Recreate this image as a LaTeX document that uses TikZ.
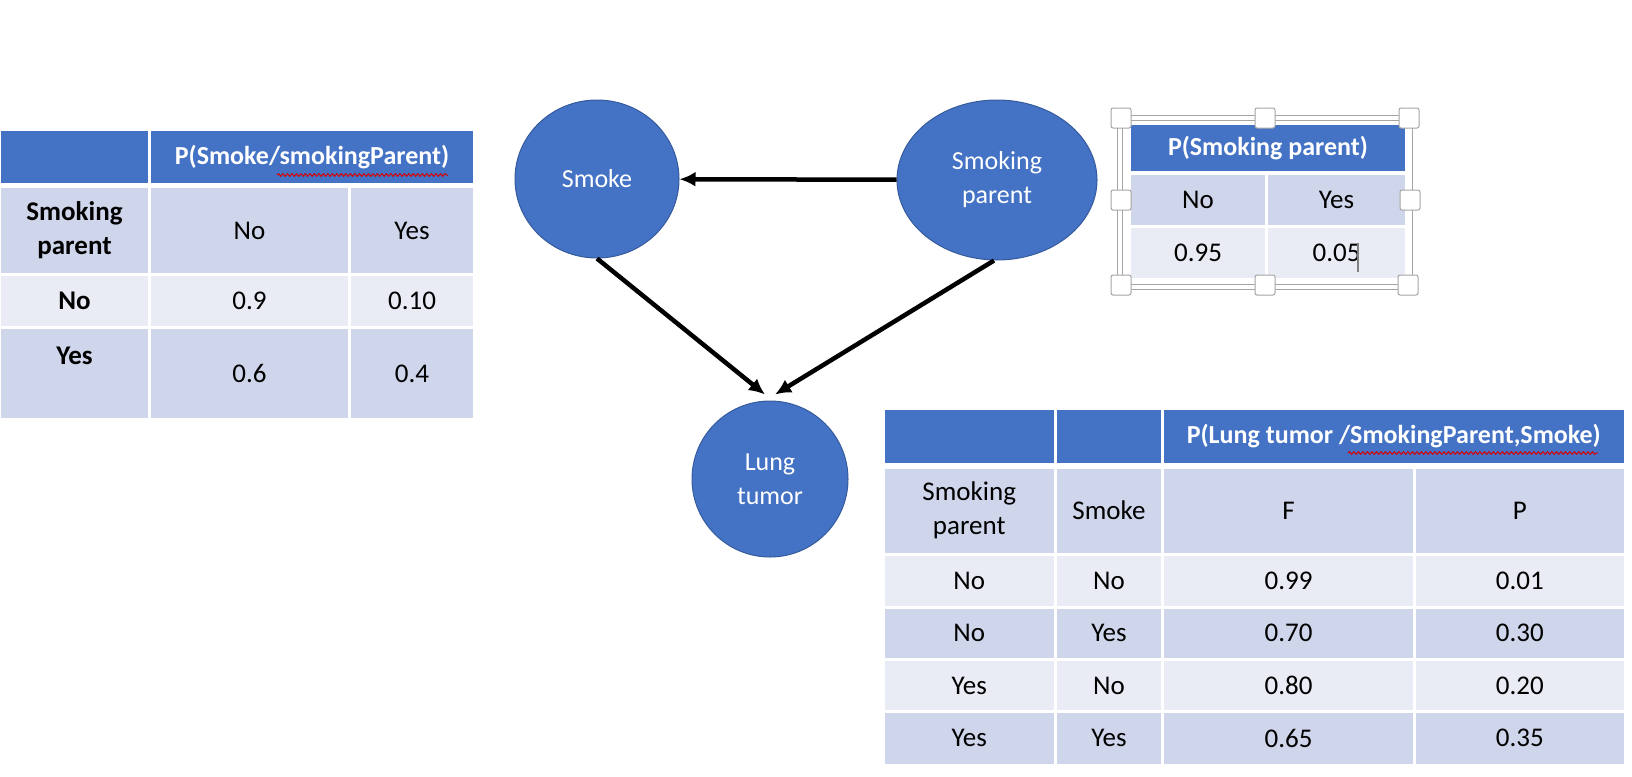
\documentclass[tikz,border=0pt]{standalone}
\usepackage{fontspec}
\setmainfont{Carlito}
\usetikzlibrary{arrows.meta,positioning,shapes.geometric,decorations.pathmorphing}
\definecolor{offblue}{RGB}{68,114,196}
\definecolor{rowdark}{RGB}{207,213,234}
\definecolor{rowlight}{RGB}{233,235,245}
\definecolor{handlegray}{RGB}{165,165,165}

\begin{document}
\begin{tikzpicture}[
    x=1pt,y=-1pt,
    hdr/.style={rectangle,draw=white,line width=3pt,fill=offblue,anchor=north west,
      inner sep=0pt,text=white,font=\fontsize{26}{31}\selectfont\bfseries},
    dark/.style={rectangle,draw=white,line width=3pt,fill=rowdark,anchor=north west,
      inner sep=0pt,align=center,font=\fontsize{27}{34}\selectfont},
    light/.style={dark,fill=rowlight},
    var/.style={ellipse,fill=offblue,draw=offblue!80!black,line width=1pt,text=white,
      align=center,inner sep=0pt,font=\fontsize{26}{34}\selectfont},
    arrow/.style={-{Latex[length=16pt,width=15pt]},line width=4.5pt},
    spell/.style={draw=red!85!black,line width=1pt,decorate,
      decoration={snake,amplitude=1.3pt,segment length=4.5pt}},
    selframe/.style={draw=handlegray,double=white,double distance=4pt,line width=0.8pt},
    handle/.style={rectangle,rounded corners=2pt,draw=handlegray,fill=white,line width=1pt,
      minimum size=20pt,inner sep=0pt}
  ]
    \useasboundingbox (0,0) rectangle (1632,776);

    % network
    \node[var,minimum width=164pt,minimum height=158pt] (smoke) at (597,179) {Smoke};
    \node[var,minimum width=200pt,minimum height=160pt] (parent) at (997,180) {Smoking\\parent};
    \node[var,minimum width=156pt,minimum height=156pt] (tumor) at (770,479) {Lung\\tumor};

    \draw[arrow] (parent) -- (smoke);
    \draw[arrow] (smoke.south) -- ([xshift=-5pt,yshift=6pt]tumor.north);
    \draw[arrow] ([xshift=-3pt]parent.south) -- ([xshift=5pt,yshift=6pt]tumor.north);

    % P(Smoke/smokingParent)
    \node[hdr,minimum width=150pt,minimum height=55pt] (sh1) at (-2,128) {};
    \node[hdr,minimum width=325pt,minimum height=55pt] (sh2) at (148,128) {P(Smoke/smokingParent)};
    \node[dark,font=\fontsize{27}{34}\selectfont\bfseries,minimum width=150pt,minimum height=88pt] (s1a) at (-2,185) {Smoking\\parent};
    \node[dark,minimum width=200pt,minimum height=88pt] (s1b) at (148,185) {No};
    \node[dark,minimum width=125pt,minimum height=88pt] (s1c) at (348,185) {Yes};
    \node[light,font=\fontsize{27}{34}\selectfont\bfseries,minimum width=150pt,minimum height=53pt] (s2a) at (-2,273) {No};
    \node[light,minimum width=200pt,minimum height=53pt] (s2b) at (148,273) {0.9};
    \node[light,minimum width=125pt,minimum height=53pt] (s2c) at (348,273) {0.10};
    \node[dark,font=\fontsize{27}{34}\selectfont\bfseries,text depth=36pt,minimum width=150pt,minimum height=92pt] (s3a) at (-2,326) {Yes};
    \node[dark,minimum width=200pt,minimum height=92pt] (s3b) at (148,326) {0.6};
    \node[dark,minimum width=125pt,minimum height=92pt] (s3c) at (348,326) {0.4};
    \draw[spell] (277,175) -- (448,175);

    % P(Smoking parent), selected
    \draw[selframe] (1120,118) rectangle (1410,287);
    \node[hdr,minimum width=277pt,minimum height=49pt] (ph) at (1128,122) {P(Smoking parent)};
    \node[dark,minimum width=137pt,minimum height=53pt] (p1a) at (1128,172) {No};
    \node[dark,minimum width=140pt,minimum height=53pt] (p1b) at (1265,172) {Yes};
    \node[light,minimum width=137pt,minimum height=53pt] (p2a) at (1128,225) {0.95};
    \node[light,minimum width=140pt,minimum height=53pt] (p2b) at (1265,225) {0.05};
    \draw[gray,line width=2pt] (1358,243) -- (1358,272);
    \node[handle] (hnw) at (1121,118) {};
    \node[handle] (hn) at (1265,118) {};
    \node[handle] (hne) at (1409,118) {};
    \node[handle] (hw) at (1121,200) {};
    \node[handle] (he) at (1410,200) {};
    \node[handle] (hsw) at (1121,285) {};
    \node[handle] (hs) at (1265,285) {};
    \node[handle] (hse) at (1408,285) {};

    % P(Lung tumor /SmokingParent,Smoke)
    \node[hdr,minimum width=172.5pt,minimum height=56pt] (th1) at (881.5,406.5) {};
    \node[hdr,minimum width=107pt,minimum height=56pt] (th2) at (1054,406.5) {};
    \node[hdr,minimum width=462.5pt,minimum height=56pt] (th3) at (1161,406.5) {P(Lung tumor /SmokingParent,Smoke)};
    \node[dark,minimum width=172.5pt,minimum height=87pt] (t1a) at (881.5,465.5) {Smoking\\parent};
    \node[dark,minimum width=107pt,minimum height=87pt] (t1b) at (1054,465.5) {Smoke};
    \node[dark,minimum width=252pt,minimum height=87pt] (t1c) at (1161,465.5) {F};
    \node[dark,minimum width=210.5pt,minimum height=87pt] (t1d) at (1413,465.5) {P};
    \node[light,minimum width=172.5pt,minimum height=53pt] (t2a) at (881.5,552.5) {No};
    \node[light,minimum width=107pt,minimum height=53pt] (t2b) at (1054,552.5) {No};
    \node[light,minimum width=252pt,minimum height=53pt] (t2c) at (1161,552.5) {0.99};
    \node[light,minimum width=210.5pt,minimum height=53pt] (t2d) at (1413,552.5) {0.01};
    \node[dark,minimum width=172.5pt,minimum height=52.5pt] (t3a) at (881.5,605.5) {No};
    \node[dark,minimum width=107pt,minimum height=52.5pt] (t3b) at (1054,605.5) {Yes};
    \node[dark,minimum width=252pt,minimum height=52.5pt] (t3c) at (1161,605.5) {0.70};
    \node[dark,minimum width=210.5pt,minimum height=52.5pt] (t3d) at (1413,605.5) {0.30};
    \node[light,minimum width=172.5pt,minimum height=52pt] (t4a) at (881.5,658) {Yes};
    \node[light,minimum width=107pt,minimum height=52pt] (t4b) at (1054,658) {No};
    \node[light,minimum width=252pt,minimum height=52pt] (t4c) at (1161,658) {0.80};
    \node[light,minimum width=210.5pt,minimum height=52pt] (t4d) at (1413,658) {0.20};
    \node[dark,minimum width=172.5pt,minimum height=53.5pt] (t5a) at (881.5,710) {Yes};
    \node[dark,minimum width=107pt,minimum height=53.5pt] (t5b) at (1054,710) {Yes};
    \node[dark,minimum width=252pt,minimum height=53.5pt] (t5c) at (1161,710) {0.65};
    \node[dark,minimum width=210.5pt,minimum height=53.5pt] (t5d) at (1413,710) {0.35};
    \draw[spell] (1348,453) -- (1598,453);
  \end{tikzpicture}
\end{document}
